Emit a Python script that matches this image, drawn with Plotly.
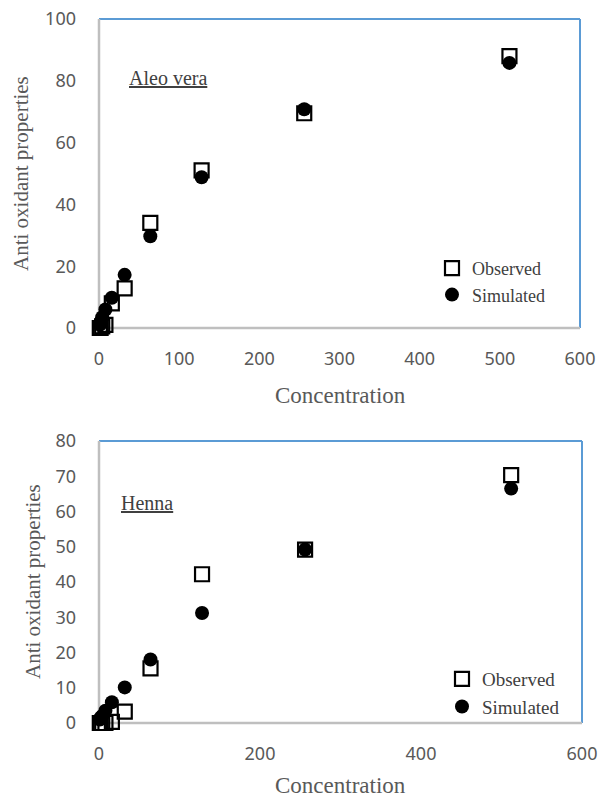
import plotly.graph_objects as go

# ---------------- data ----------------
concentration = [1, 2, 4, 8, 16, 32, 64, 128, 256, 512]

aleo_observed = [0, 0, 0.5, 1, 8, 12.8, 34, 51, 69.5, 88]
aleo_simulated = [1, 2, 3.5, 6, 9.8, 17.2, 29.7, 48.8, 70.8, 85.8]

henna_observed = [0, 0, 0, 0, 0.3, 3.2, 15.5, 42.2, 49.2, 70.3]
henna_simulated = [1, 1.5, 2, 3.5, 5.9, 10.1, 18, 31.2, 49.2, 66.5]

x_ticks_top = [0, 100, 200, 300, 400, 500, 600]
y_ticks_top = [0, 20, 40, 60, 80, 100]
x_ticks_bottom = [0, 200, 400, 600]
y_ticks_bottom = [0, 10, 20, 30, 40, 50, 60, 70, 80]

# ---------------- styling ----------------
W, H = 602, 799
Y_TICK_FONT = dict(family="Noto Sans", size=18, color="#595959")
X_TICK_FONT = dict(family="Noto Sans", size=18, color="#595959")
SERIF = "Liberation Serif"
GRAY_AXIS = "#BFBFBF"
BLUE = "#5B9BD5"

def px_x(p):
    return p / W

def px_y(p):
    return 1 - p / H

fig = go.Figure()

sq = dict(symbol="square-open", size=14, color="black", line=dict(width=2.2, color="black"))
dot = dict(symbol="circle", size=14, color="black")

fig.add_trace(go.Scatter(x=concentration, y=aleo_observed, mode="markers", name="Observed",
                         marker=sq, xaxis="x", yaxis="y", legend="legend", cliponaxis=False))
fig.add_trace(go.Scatter(x=concentration, y=aleo_simulated, mode="markers", name="Simulated",
                         marker=dot, xaxis="x", yaxis="y", legend="legend", cliponaxis=False))
fig.add_trace(go.Scatter(x=concentration, y=henna_observed, mode="markers", name="Observed",
                         marker=sq, xaxis="x2", yaxis="y2", legend="legend2", cliponaxis=False))
fig.add_trace(go.Scatter(x=concentration, y=henna_simulated, mode="markers", name="Simulated",
                         marker=dot, xaxis="x2", yaxis="y2", legend="legend2", cliponaxis=False))

# plot areas in page pixels
top = dict(x0=99, x1=580, y0=19, y1=328)
bot = dict(x0=99, x1=582, y0=441, y1=723)

axis_common = dict(showgrid=False, zeroline=False, showline=False, ticks="",
                   fixedrange=True, automargin=False, ticklabeloverflow="allow")

fig.update_layout(
    template="plotly_white",
    width=W, height=H,
    margin=dict(l=0, r=0, t=0, b=0, pad=0, autoexpand=False),
    paper_bgcolor="white", plot_bgcolor="white",
    xaxis=dict(domain=[px_x(top["x0"]), px_x(top["x1"])], range=[0, 600],
               tickvals=x_ticks_top, anchor="y", ticklabelstandoff=18,
               tickfont=X_TICK_FONT, **axis_common),
    yaxis=dict(domain=[px_y(top["y1"]), px_y(top["y0"])], range=[0, 100],
               tickvals=y_ticks_top, anchor="x", ticklabelstandoff=22,
               tickfont=Y_TICK_FONT, **axis_common),
    xaxis2=dict(domain=[px_x(bot["x0"]), px_x(bot["x1"])], range=[0, 600],
                tickvals=x_ticks_bottom, anchor="y2", ticklabelstandoff=18,
                tickfont=X_TICK_FONT, **axis_common),
    yaxis2=dict(domain=[px_y(bot["y1"]), px_y(bot["y0"])], range=[0, 80],
                tickvals=y_ticks_bottom, anchor="x2", ticklabelstandoff=22,
                tickfont=Y_TICK_FONT, **axis_common),
    legend=dict(x=px_x(432), y=px_y(250), xanchor="left", yanchor="top",
                bgcolor="rgba(0,0,0,0)", font=dict(family=SERIF, size=18, color="#404040"),
                itemwidth=30, tracegroupgap=0),
    legend2=dict(x=px_x(442), y=px_y(660), xanchor="left", yanchor="top",
                 bgcolor="rgba(0,0,0,0)", font=dict(family=SERIF, size=19, color="#404040"),
                 itemwidth=30, tracegroupgap=0),
    showlegend=True,
)

# frame lines: gray left/bottom, blue top/right
shapes = []
for p in (top, bot):
    shapes += [
        dict(type="line", xref="paper", yref="paper", x0=px_x(p["x0"]), x1=px_x(p["x1"]),
             y0=px_y(p["y0"]), y1=px_y(p["y0"]), line=dict(color=BLUE, width=2), layer="below"),
        dict(type="line", xref="paper", yref="paper", x0=px_x(p["x1"]), x1=px_x(p["x1"]),
             y0=px_y(p["y0"]), y1=px_y(p["y1"]), line=dict(color=BLUE, width=2), layer="below"),
        dict(type="line", xref="paper", yref="paper", x0=px_x(p["x0"]), x1=px_x(p["x1"]),
             y0=px_y(p["y1"]), y1=px_y(p["y1"]), line=dict(color=GRAY_AXIS, width=2.5), layer="below"),
        dict(type="line", xref="paper", yref="paper", x0=px_x(p["x0"]), x1=px_x(p["x0"]),
             y0=px_y(p["y0"]), y1=px_y(p["y1"]), line=dict(color=GRAY_AXIS, width=2.5), layer="below"),
    ]
fig.update_layout(shapes=shapes)

title_font = dict(family=SERIF, size=23, color="#595959")
ytitle_font = dict(family=SERIF, size=21, color="#595959")
label_font = dict(family=SERIF, size=20, color="#404040")
annotations = [
    dict(text="Concentration", x=px_x(340), y=px_y(395), xref="paper", yref="paper",
         showarrow=False, font=title_font, xanchor="center", yanchor="middle"),
    dict(text="Concentration", x=px_x(340), y=px_y(785), xref="paper", yref="paper",
         showarrow=False, font=title_font, xanchor="center", yanchor="middle"),
    dict(text="Anti oxidant properties", x=px_x(21), y=px_y(174), xref="paper", yref="paper",
         showarrow=False, font=ytitle_font, textangle=-90, xanchor="center", yanchor="middle"),
    dict(text="Anti oxidant properties", x=px_x(33), y=px_y(582), xref="paper", yref="paper",
         showarrow=False, font=ytitle_font, textangle=-90, xanchor="center", yanchor="middle"),
    dict(text="<u>Aleo vera</u>", x=px_x(127), y=px_y(78), xref="paper", yref="paper",
         showarrow=False, font=label_font, xanchor="left", yanchor="middle"),
    dict(text="<u>Henna</u>", x=px_x(119), y=px_y(503), xref="paper", yref="paper",
         showarrow=False, font=label_font, xanchor="left", yanchor="middle"),
]
fig.update_layout(annotations=annotations)

# remove the browser's default 8px page margin so the 602x799 figure fills the window
fig.write_html("out.html", config={"displayModeBar": False},
               post_script="document.body.style.margin='0px';")
